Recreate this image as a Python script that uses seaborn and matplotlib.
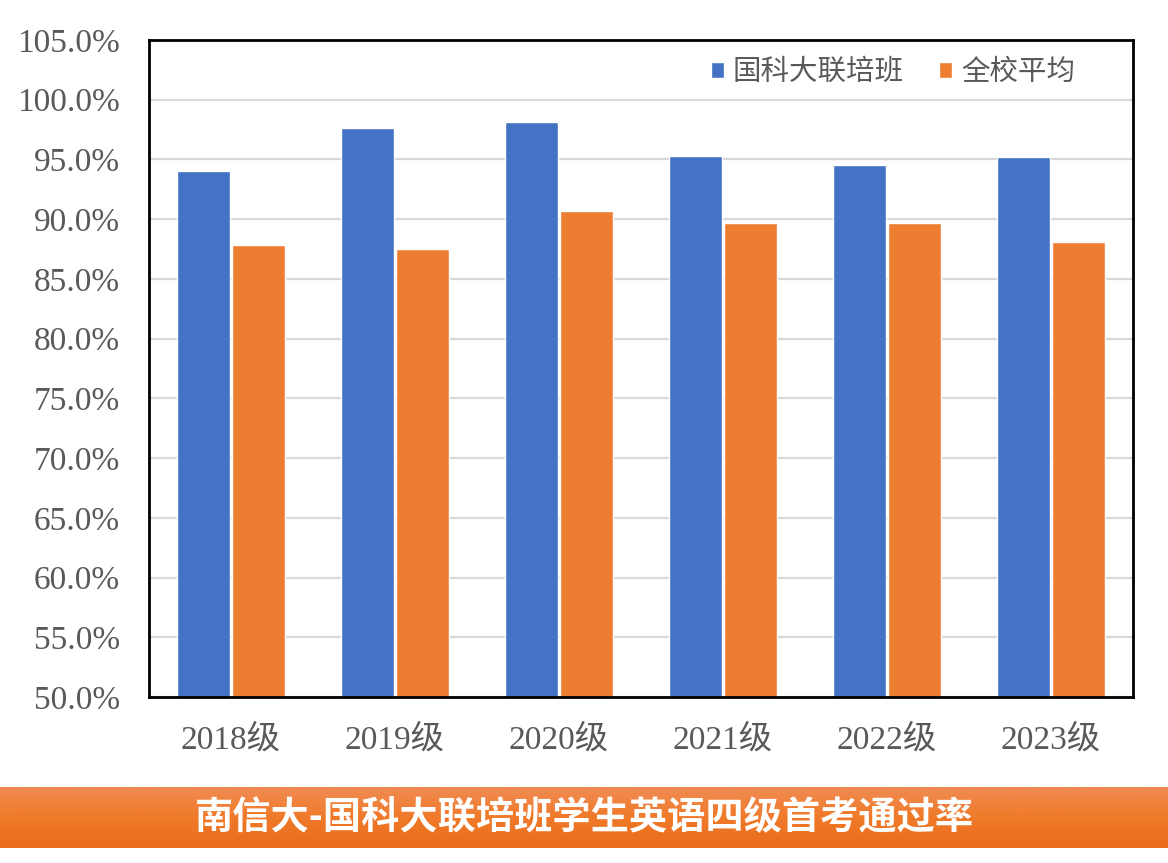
import matplotlib
matplotlib.use('Agg')
import matplotlib.pyplot as plt
import numpy as np
import pandas as pd
import seaborn as sns

# dados
anos = ['2018级', '2019级', '2020级', '2021级', '2022级', '2023级']
ucas = [94.0, 97.6, 98.1, 95.3, 94.5, 95.2]
escola = [87.8, 87.5, 90.7, 89.7, 89.7, 88.1]
series = ['国科大联培班', '全校平均']
cores = ['#4472C4', '#ED7D31']
titulo = '南信大-国科大联培班学生英语四级首考通过率'
yticks = [50, 55, 60, 65, 70, 75, 80, 85, 90, 95, 100, 105]

df = pd.DataFrame({
    'ano': anos * 2,
    'taxa': ucas + escola,
    'grupo': [series[0]] * len(anos) + [series[1]] * len(anos),
})

sns.set_theme(style='white')
plt.rcParams['font.family'] = ['Liberation Serif', 'Noto Sans CJK SC', 'DejaVu Sans']

W, H = 1168, 863
fig = plt.figure(figsize=(W / 100, H / 100), dpi=100)
ax = fig.add_axes([149 / W, 1 - 697 / H, (1133 - 149) / W, (697 - 40) / H])

sns.barplot(data=df, x='ano', y='taxa', hue='grupo', palette=cores,
            width=0.67, gap=0.05, saturation=1, ax=ax, legend=True)

ax.set_ylim(50, 105)
ax.set_yticks(yticks)
ax.set_yticklabels([f'{v:.1f}%' for v in yticks])
ax.set_xlabel('')
ax.set_ylabel('')
ax.yaxis.grid(True, color='#D9D9D9', linewidth=1.6)
ax.set_axisbelow(True)
for s in ax.spines.values():
    s.set_color('black')
    s.set_linewidth(2)
ax.tick_params(axis='y', length=0, pad=21, labelsize=24, labelcolor='#595959')
ax.tick_params(axis='x', length=0, pad=20, labelsize=24, labelcolor='#595959')

handles, labels = ax.get_legend_handles_labels()
ax.legend(handles, labels, ncol=2, frameon=False, loc='center left',
          bbox_to_anchor=(711 / W, 1 - 72 / H), bbox_transform=fig.transFigure,
          borderpad=0, borderaxespad=0, handlelength=0.46, handleheight=0.46,
          handletextpad=0.3, columnspacing=1.25,
          prop={'family': ['Noto Sans CJK SC'], 'size': 20.5})
for t in ax.get_legend().get_texts():
    t.set_color('#595959')

# faixa do título com gradiente
bx = fig.add_axes([0, 1 - 848 / H, 1, 61 / H])
grad = np.linspace(0, 1, 100).reshape(-1, 1)
cmap = matplotlib.colors.LinearSegmentedColormap.from_list(
    'faixa', ['#F08C54', '#F07A2A', '#E86C1A'])
bx.imshow(grad, aspect='auto', cmap=cmap, extent=[0, 1, 0, 1])
bx.set_xlim(0, 1)
bx.set_ylim(0, 1)
bx.axis('off')
bx.text(0.5, 0.5, titulo, ha='center', va='center', color='white',
        fontsize=27.5, fontweight='bold', family=['Noto Sans CJK SC'])

fig.savefig('out.png', dpi=100)
